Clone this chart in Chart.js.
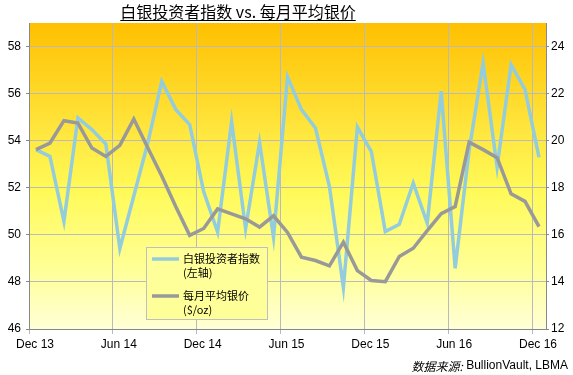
<!DOCTYPE html>
<html>
<head>
<meta charset="utf-8">
<script src="https://cdn.jsdelivr.net/npm/chart.js@4.4.1/dist/chart.umd.min.js"></script>
<style>
  html, body { margin: 0; padding: 0; background: #fff; }
  canvas { display: block; }
</style>
</head>
<body>
<canvas id="silverChart" width="573" height="375"></canvas>
<script>
const months = [
  'Dec 13',
  'Jan 14', 'Feb 14', 'Mar 14', 'Apr 14', 'May 14', 'Jun 14', 'Jul 14', 'Aug 14', 'Sep 14', 'Oct 14', 'Nov 14', 'Dec 14',
  'Jan 15', 'Feb 15', 'Mar 15', 'Apr 15', 'May 15', 'Jun 15', 'Jul 15', 'Aug 15', 'Sep 15', 'Oct 15', 'Nov 15', 'Dec 15',
  'Jan 16', 'Feb 16', 'Mar 16', 'Apr 16', 'May 16', 'Jun 16', 'Jul 16', 'Aug 16', 'Sep 16', 'Oct 16', 'Nov 16', 'Dec 16'
];
const xTickLabels = ['Dec 13', 'Jun 14', 'Dec 14', 'Jun 15', 'Dec 15', 'Jun 16', 'Dec 16'];

// Silver Investor Index (left axis)
const investorIndex = [
  53.62, 53.33, 50.57, 54.97, 54.47, 53.86, 49.42, 51.65, 53.9, 56.52, 55.33, 54.68, 51.84,
  50.12, 54.82, 50.26, 53.93, 49.9, 56.71, 55.32, 54.54, 52.06, 47.77, 54.58, 53.54,
  50.14, 50.45, 52.2, 50.5, 56.1, 48.58, 53.6, 57.3, 52.88, 57.23, 56.17, 53.29
];
// Monthly average silver price, $/oz (right axis)
const silverPrice = [
  19.62, 19.9, 20.85, 20.75, 19.69, 19.33, 19.8, 20.92, 19.7, 18.5, 17.2, 15.98, 16.27,
  17.1, 16.89, 16.68, 16.33, 16.81, 16.1, 15.05, 14.91, 14.68, 15.69, 14.48, 14.06,
  14.01, 15.08, 15.43, 16.18, 16.9, 17.2, 19.94, 19.62, 19.28, 17.74, 17.42, 16.35
];

const leftTicks = [46, 48, 50, 52, 54, 56, 58];
const rightTicks = [12, 14, 16, 18, 20, 22, 24];

const titleText = '白银投资者指数 vs. 每月平均银价';
const legendLabels = [['白银投资者指数', '(左轴)'], ['每月平均银价', '($/oz)']];

const BLUE = '#93CDDD';
const GREY = '#999999';
const GRID = '#B9B9C0';
const AXIS = '#888888';
const cjk = "'Noto Sans CJK SC', 'Liberation Sans', sans-serif";

// plot area background gradient
const areaBg = {
  id: 'areaBg',
  beforeDraw(chart) {
    const { ctx, chartArea: a } = chart;
    const g = ctx.createLinearGradient(0, a.top, 0, a.bottom);
    g.addColorStop(0, '#FFC000');
    g.addColorStop(0.35, '#FFE63E');
    g.addColorStop(0.55, '#FFFA58');
    g.addColorStop(0.8, '#FFFF96');
    g.addColorStop(1, '#FFFFD6');
    ctx.save();
    ctx.fillStyle = g;
    ctx.fillRect(a.left, a.top, a.right - a.left, a.bottom - a.top);
    ctx.restore();
  }
};

// title, legend box and source line
const extras = {
  id: 'extras',
  afterDraw(chart) {
    const ctx = chart.ctx;
    ctx.save();

    // title
    ctx.font = '16px ' + cjk;
    ctx.fillStyle = '#000';
    ctx.textBaseline = 'alphabetic';
    ctx.textAlign = 'center';
    const tw = ctx.measureText(titleText).width;
    ctx.fillText(titleText, 238, 18);
    ctx.strokeStyle = '#000';
    ctx.lineWidth = 1;
    ctx.beginPath();
    ctx.moveTo(238 - tw / 2, 20.5);
    ctx.lineTo(238 + tw / 2, 20.5);
    ctx.stroke();

    // legend
    ctx.fillStyle = '#FFFF99';
    ctx.fillRect(146, 247, 122, 73);
    ctx.strokeStyle = '#BFBFBF';
    ctx.strokeRect(146.5, 247.5, 121, 72);
    const colors = [BLUE, GREY];
    const rows = [259, 296];
    ctx.textAlign = 'left';
    ctx.textBaseline = 'middle';
    ctx.font = '11px ' + cjk;
    legendLabels.forEach((lbl, i) => {
      ctx.strokeStyle = colors[i];
      ctx.lineWidth = 3.5;
      ctx.beginPath();
      ctx.moveTo(152, rows[i]);
      ctx.lineTo(179, rows[i]);
      ctx.stroke();
      ctx.fillStyle = '#000';
      ctx.fillText(lbl[0], 183, rows[i]);
      ctx.fillText(lbl[1], 183, rows[i] + 14);
    });

    // source
    ctx.textAlign = 'right';
    ctx.font = "12px 'Liberation Sans', Arial, sans-serif";
    const src = ' BullionVault, LBMA';
    const sw = ctx.measureText(src).width;
    ctx.fillText(src, 568, 366);
    ctx.font = 'italic 12px ' + cjk;
    ctx.fillText('数据来源:', 568 - sw, 366);

    ctx.restore();
  }
};

const tickFont = { family: "'Liberation Sans', Arial, sans-serif", size: 12 };

new Chart(document.getElementById('silverChart'), {
  type: 'line',
  data: {
    datasets: [
      {
        label: legendLabels[0].join(' '),
        data: investorIndex.map((v, i) => ({ x: i + 0.5, y: v })),
        borderColor: BLUE,
        borderWidth: 3.5,
        pointRadius: 0,
        tension: 0,
        yAxisID: 'yL',
        order: 2
      },
      {
        label: legendLabels[1].join(' '),
        data: silverPrice.map((v, i) => ({ x: i + 0.5, y: v })),
        borderColor: GREY,
        borderWidth: 3.5,
        pointRadius: 0,
        tension: 0,
        yAxisID: 'yR',
        order: 1
      }
    ]
  },
  options: {
    responsive: false,
    animation: false,
    layout: { padding: { top: 23, left: 0, right: 0, bottom: 0 } },
    plugins: { legend: { display: false }, tooltip: { enabled: false }, title: { display: false } },
    scales: {
      x: {
        type: 'linear',
        min: 0,
        max: months.length,
        afterFit: s => { s.height = 46; },
        ticks: {
          stepSize: 6,
          includeBounds: false,
          autoSkip: false,
          maxRotation: 0,
          color: '#000',
          font: tickFont,
          padding: 3,
          labelOffset: 6,
          callback: v => xTickLabels[v / 6] ?? ''
        },
        grid: { color: GRID, tickLength: 5, tickColor: GRID },
        border: { color: AXIS, width: 1 }
      },
      yL: {
        position: 'left',
        min: leftTicks[0],
        max: 59,
        afterFit: s => { s.width = 29; },
        ticks: {
          stepSize: 2,
          includeBounds: false,
          color: '#000',
          font: tickFont,
          padding: 5,
          callback: v => leftTicks.includes(v) ? v : ''
        },
        grid: { color: GRID, tickLength: 3, tickColor: AXIS },
        border: { color: AXIS, width: 1 }
      },
      yR: {
        position: 'right',
        min: rightTicks[0],
        max: 25,
        afterFit: s => { s.width = 27; },
        ticks: {
          stepSize: 2,
          includeBounds: false,
          color: '#000',
          font: tickFont,
          padding: 2,
          callback: v => rightTicks.includes(v) ? v : ''
        },
        grid: { drawOnChartArea: false, tickLength: 3, tickColor: AXIS },
        border: { color: AXIS, width: 1 }
      }
    }
  },
  plugins: [areaBg, extras]
});
</script>
</body>
</html>
